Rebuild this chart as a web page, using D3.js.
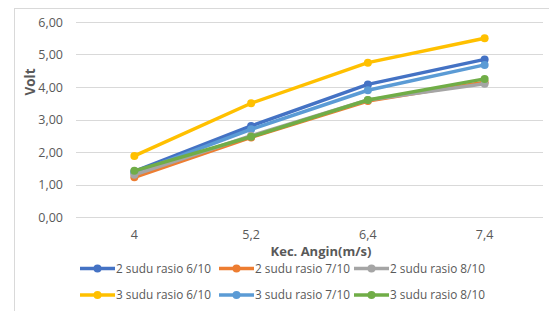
<!DOCTYPE html>
<html>
<head>
<meta charset="utf-8">
<script src="https://cdn.jsdelivr.net/npm/d3@7"></script>
<style>
  body { margin: 0; background: #fff; }
  text { font-family: "Open Sans", sans-serif; fill: #595959; }
</style>
</head>
<body id="viz">
<script>
// Data
var categories = ["4", "5,2", "6,4", "7,4"]
var seriesNames = ["2 sudu rasio 6/10", "2 sudu rasio 7/10", "2 sudu rasio 8/10",
                   "3 sudu rasio 6/10", "3 sudu rasio 7/10", "3 sudu rasio 8/10"]
var s2_6 = [1.40, 2.80, 4.08, 4.85]
var s2_7 = [1.22, 2.45, 3.57, 4.15]
var s2_8 = [1.30, 2.50, 3.60, 4.10]
var s3_6 = [1.88, 3.50, 4.75, 5.50]
var s3_7 = [1.35, 2.70, 3.90, 4.68]
var s3_8 = [1.42, 2.47, 3.60, 4.25]
var yTicks = [0, 1, 2, 3, 4, 5, 6]

var colors = ["#4472C4", "#ED7D31", "#A5A5A5", "#FFC000", "#5B9BD5", "#70AD47"]
var allSeries = [s2_6, s2_7, s2_8, s3_6, s3_7, s3_8]
// draw order: later ones on top
var drawOrder = [3, 0, 4, 1, 2, 5]

var width = 549, height = 311
var plot = {left: 76, right: 543, top: 22, bottom: 217}

var svg = d3.select("body#viz")
  .append("svg")
  .attr("width", width)
  .attr("height", height)

// chart frame
svg.append("rect")
  .attr("x", 14.5).attr("y", 8.5)
  .attr("width", 560).attr("height", 320)
  .attr("fill", "none")
  .attr("stroke", "#d9d9d9")

var x = d3.scaleBand()
  .domain(categories)
  .range([plot.left, plot.right])

var y = d3.scaleLinear()
  .domain([0, 6])
  .range([plot.bottom, plot.top])

// gridlines
svg.append("g")
  .selectAll("line")
  .data(yTicks)
  .enter().append("line")
    .attr("x1", plot.left).attr("x2", plot.right)
    .attr("y1", function(d) { return Math.round(y(d)) + 0.5 })
    .attr("y2", function(d) { return Math.round(y(d)) + 0.5 })
    .attr("stroke", "#d9d9d9")
    .attr("stroke-width", 1)

// y axis labels
var yAxis = d3.axisLeft(y).tickValues(yTicks).tickSize(0).tickPadding(13)
  .tickFormat(function(d) { return d3.format(".2f")(d).replace(".", ",") })
svg.append("g")
  .attr("transform", "translate(" + plot.left + ",0)")
  .call(yAxis)
  .call(function(g) { g.select(".domain").remove() })
  .selectAll("text")
    .style("font-family", "Open Sans, sans-serif")
    .style("font-size", "12.5px")
    .attr("fill", "#595959")

// x axis labels
var xAxis = d3.axisBottom(x).tickSize(0).tickPadding(13)
svg.append("g")
  .attr("transform", "translate(0," + plot.bottom + ")")
  .call(xAxis)
  .call(function(g) { g.select(".domain").remove() })
  .selectAll("text")
    .style("font-family", "Open Sans, sans-serif")
    .style("font-size", "12.5px")
    .attr("fill", "#595959")

// axis titles
svg.append("text")
  .attr("x", 321).attr("y", 256)
  .attr("text-anchor", "middle")
  .style("font-size", "13px")
  .style("font-weight", "bold")
  .text("Kec. Angin(m/s)")

svg.append("text")
  .attr("transform", "translate(35," + 82 + ") rotate(-90)")
  .attr("text-anchor", "middle")
  .style("font-size", "13.5px")
  .style("font-weight", "bold")
  .text("Volt")

// lines
var line = d3.line()
  .x(function(d, i) { return x(categories[i]) + x.bandwidth() / 2 })
  .y(function(d) { return y(d) })

drawOrder.forEach(function(k) {
  var g = svg.append("g")
  g.append("path")
    .datum(allSeries[k])
    .attr("d", line)
    .attr("fill", "none")
    .attr("stroke", colors[k])
    .attr("stroke-width", 3.5)
    .attr("stroke-linejoin", "round")
    .attr("stroke-linecap", "round")
  g.selectAll("circle")
    .data(allSeries[k])
    .enter().append("circle")
      .attr("cx", function(d, i) { return x(categories[i]) + x.bandwidth() / 2 })
      .attr("cy", function(d) { return y(d) })
      .attr("r", 4)
      .attr("fill", colors[k])
})

// legend
var legX = [80, 219, 354]
var legY = [268.5, 295]
seriesNames.forEach(function(name, k) {
  var lx = legX[k % 3], ly = legY[Math.floor(k / 3)]
  var g = svg.append("g").attr("transform", "translate(" + lx + "," + ly + ")")
  g.append("line")
    .attr("x1", 0).attr("x2", 35)
    .attr("y1", 0).attr("y2", 0)
    .attr("stroke", colors[k])
    .attr("stroke-width", 3.5)
  g.append("circle")
    .attr("cx", 17.5).attr("cy", 0).attr("r", 4)
    .attr("fill", colors[k])
  g.append("text")
    .attr("x", 36).attr("y", 0)
    .attr("dy", "0.35em")
    .style("font-size", "11.8px")
    .text(name)
})
</script>
</body>
</html>
